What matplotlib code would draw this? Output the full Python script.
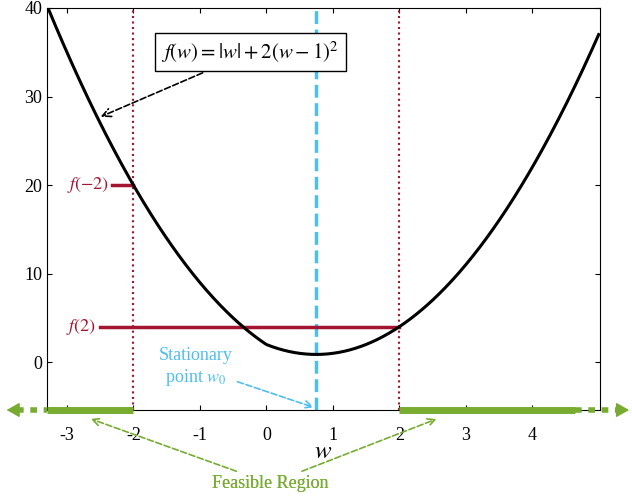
import numpy as np
import matplotlib
matplotlib.use("Agg")
import matplotlib.pyplot as plt

plt.rcParams['font.family'] = ['Liberation Serif', 'DejaVu Serif']
plt.rcParams['mathtext.fontset'] = 'stix'

RED = '#A2142F'; GREEN = '#77AC30'; CYAN = '#4DBEEE'
w = np.linspace(-3.3, 5.0, 400)
f = np.abs(w) + 2 * (w - 1) ** 2
w0 = 0.75
bounds = [-2, 2]
f_bounds = [np.abs(b) + 2 * (b - 1) ** 2 for b in bounds]
xticks = [-3, -2, -1, 0, 1, 2, 3, 4]
yticks = [0, 10, 20, 30, 40]
xmin, xmax, ymin, ymax = -3.3, 5.02, -5.4, 40

fig = plt.figure(figsize=(6.32, 4.96), dpi=100)
ax = fig.add_axes([47/632, 1-410/496, 553/632, 402/496])
ax.set_xlim(xmin, xmax); ax.set_ylim(ymin, ymax)
ax.set_xticks(xticks); ax.set_yticks(yticks)
ax.set_xticklabels([str(t) for t in xticks])
ax.tick_params(direction='in', top=True, right=True, labelsize=13)
ax.xaxis.set_tick_params(pad=12)

for b in bounds:
    ax.axvline(b, color=RED, ls=':', lw=1.5)
ax.axvline(w0, color=CYAN, ls='--', lw=2.5)
ax.plot(w, f, color='k', lw=2.2, zorder=5)

# f(-2) and f(2)
ax.plot([-2.32, -2], [f_bounds[0]]*2, color=RED, lw=2.5, zorder=4)
ax.text(-2.37, f_bounds[0], '$f(-2)$', color=RED, ha='right', va='center', fontsize=13)
ax.plot([-2.5, 2], [f_bounds[1]]*2, color=RED, lw=2.5, zorder=4)
ax.text(-2.56, f_bounds[1], '$f(2)$', color=RED, ha='right', va='center', fontsize=13)

ax.annotate('$f(w)=|w|+2(w-1)^2$', xy=(-2.53, 27.6), xytext=(-0.24, 35.0),
            fontsize=15, ha='center', va='center',
            bbox=dict(boxstyle='square,pad=0.3', fc='white', ec='k', lw=1),
            arrowprops=dict(arrowstyle='->', ls='--', color='k', lw=1.2))
ax.annotate('Stationary\npoint $w_0$', xy=(w0, -5.2), xytext=(-1.07, -0.6),
            fontsize=13, color=CYAN, ha='center', va='center',
            arrowprops=dict(arrowstyle='->', ls='--', color=CYAN, lw=1.2))

# feasible region bars
ax.plot([xmin, -2], [ymin, ymin], color=GREEN, lw=5, solid_capstyle='butt', clip_on=False, zorder=6)
ax.plot([2, 4.65], [ymin, ymin], color=GREEN, lw=5, solid_capstyle='butt', clip_on=False, zorder=6)
ax.plot([-3.75, xmin], [ymin, ymin], color=GREEN, lw=4, ls=(0, (1.2, 1.2)), clip_on=False, zorder=6)
ax.plot([4.65, 5.3], [ymin, ymin], color=GREEN, lw=4, ls=(0, (1.2, 1.2)), clip_on=False, zorder=6)
ax.annotate('', xy=(-3.95, ymin), xytext=(-3.7, ymin), annotation_clip=False,
            arrowprops=dict(arrowstyle='-|>,head_length=0.8,head_width=0.45', lw=1, color=GREEN))
ax.annotate('', xy=(5.5, ymin), xytext=(5.25, ymin), annotation_clip=False,
            arrowprops=dict(arrowstyle='-|>,head_length=0.8,head_width=0.45', lw=1, color=GREEN))
for tx in [-2.68, 2.6]:
    ax.annotate('Feasible Region', xy=(tx, -6.3), xytext=(0.06, -13.7), annotation_clip=False,
                fontsize=13, color=GREEN, ha='center', va='center',
                arrowprops=dict(arrowstyle='->', ls='--', color=GREEN, lw=1.2))
ax.set_xlabel('$w$', fontsize=18, labelpad=-2)
fig.savefig('out.png', dpi=100)
